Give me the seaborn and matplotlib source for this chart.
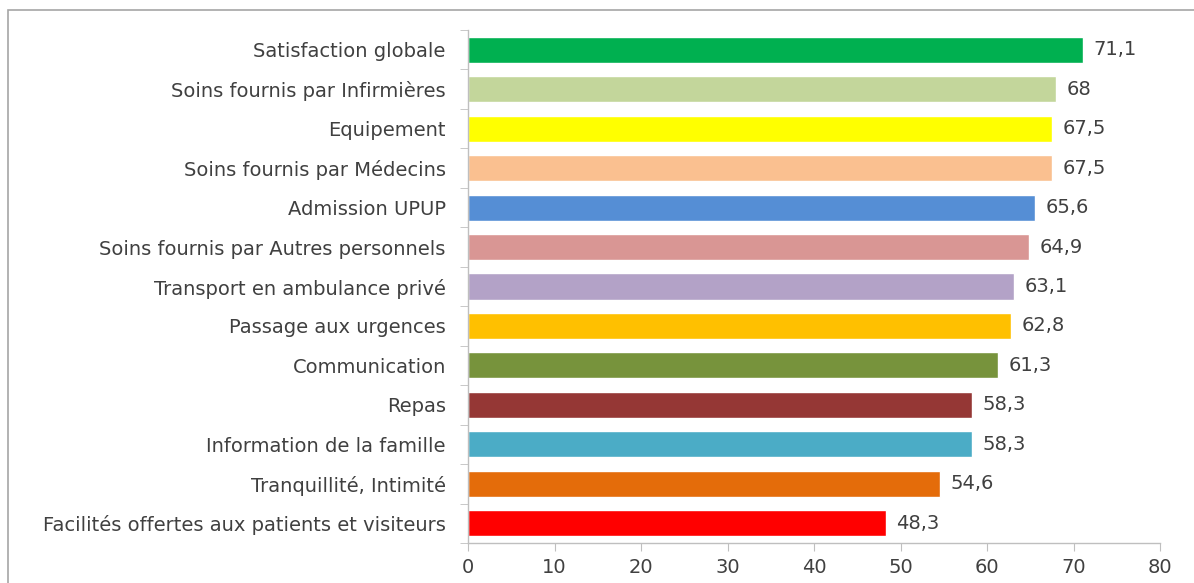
import numpy as np
import pandas as pd
import matplotlib
matplotlib.use("Agg")
import matplotlib.pyplot as plt
from matplotlib.patches import Rectangle
from matplotlib.ticker import FixedLocator
import seaborn as sns

categories = [
    "Satisfaction globale",
    "Soins fournis par Infirmières",
    "Equipement",
    "Soins fournis par Médecins",
    "Admission UPUP",
    "Soins fournis par Autres personnels",
    "Transport en ambulance privé",
    "Passage aux urgences",
    "Communication",
    "Repas",
    "Information de la famille",
    "Tranquillité, Intimité",
    "Facilités offertes aux patients et visiteurs",
]
scores = [71.1, 68, 67.5, 67.5, 65.6, 64.9, 63.1, 62.8, 61.3, 58.3, 58.3, 54.6, 48.3]
bar_colors = [
    "#00B050", "#C3D69B", "#FFFF00", "#FAC090", "#558ED5", "#D99694", "#B3A2C7",
    "#FFC000", "#77933C", "#953735", "#4BACC6", "#E46C0A", "#FF0000",
]

df = pd.DataFrame({"categorie": categories, "score": scores})

sns.set_style("white")
plt.rcParams["font.family"] = ["DejaVu Sans"]
text_col = "#404040"
grid_col = "#BFBFBF"
fs = 14

fig = plt.figure(figsize=(11.94, 5.83), dpi=100)
ax = fig.add_axes([468 / 1194, 1 - 543 / 583, (1160 - 468) / 1194, (543 - 30) / 583])

sns.barplot(
    data=df, x="score", y="categorie", hue="categorie",
    palette=bar_colors, order=categories, orient="h",
    width=0.66, legend=False, ax=ax, saturation=1,
)

for i, v in enumerate(scores):
    ax.text(v + 1.2, i, f"{v:g}".replace(".", ","), va="center", ha="left",
            fontsize=fs, color=text_col)

ax.set_xlim(0, 80)
ax.set_ylim(len(categories) - 0.5, -0.5)
ax.set_xticks(range(0, 81, 10))
ax.set_xlabel("")
ax.set_ylabel("")

# ticks between categories on the y axis
ax.yaxis.set_minor_locator(FixedLocator(np.arange(-0.5, len(categories), 1)))
ax.tick_params(axis="y", which="major", length=0, labelsize=fs, labelcolor=text_col, pad=16)
ax.tick_params(axis="y", which="minor", length=6, color=grid_col, direction="out", left=True)
ax.tick_params(axis="x", length=6, color=grid_col, labelsize=fs, labelcolor=text_col,
               direction="out", bottom=True, pad=5)

for s in ["top", "right"]:
    ax.spines[s].set_visible(False)
for s in ["left", "bottom"]:
    ax.spines[s].set_color(grid_col)
    ax.spines[s].set_linewidth(1)

# outer chart frame (cut off at right and bottom in the source)
fig.patches.append(Rectangle((8 / 1194, -0.1), 1.2, 1 - 10 / 583 + 0.1,
                             transform=fig.transFigure, fill=False,
                             edgecolor="#A6A6A6", linewidth=1.2))

fig.savefig("out.png", dpi=100)
